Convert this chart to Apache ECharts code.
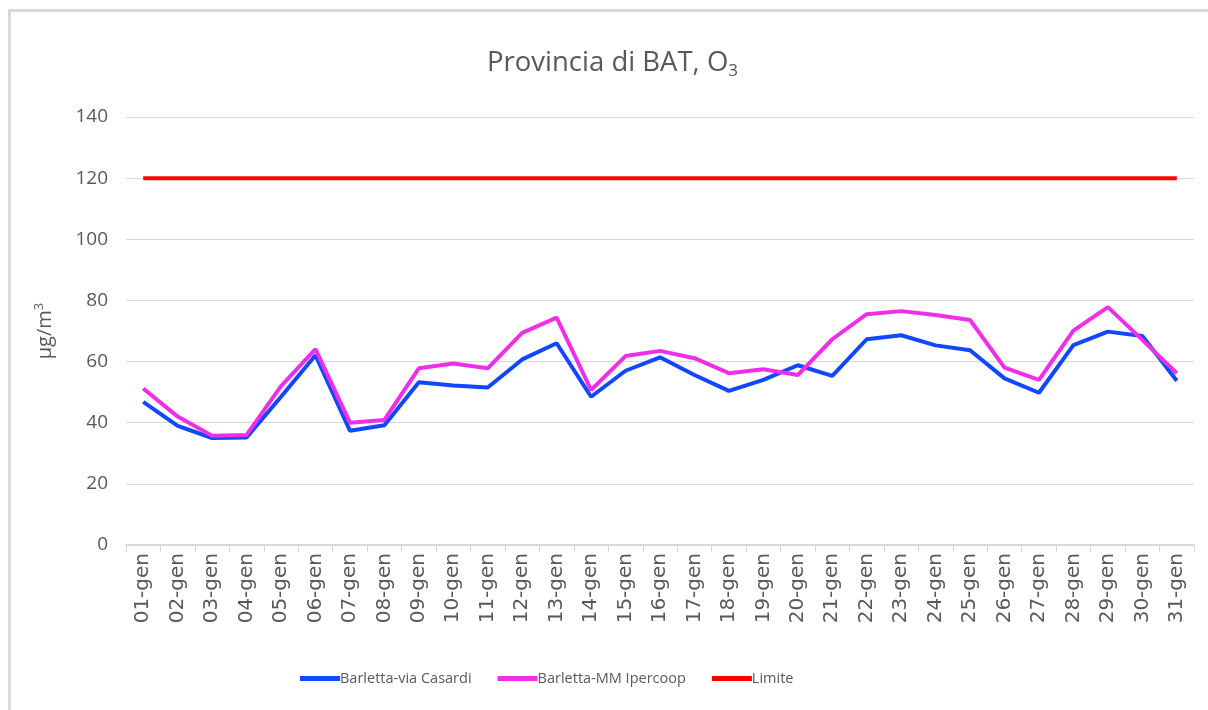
<!DOCTYPE html>
<html>
<head>
<meta charset="utf-8">
<script src="https://cdn.jsdelivr.net/npm/echarts@6/dist/echarts.min.js"></script>
<style>
html,body{margin:0;padding:0;background:#fff;}
#frame{position:absolute;left:8px;top:9px;width:1200px;height:701px;border-left:3px solid #d9d9d9;border-top:3px solid #d9d9d9;box-sizing:border-box;}
#chart{position:absolute;left:0;top:0;width:1208px;height:710px;}
</style>
</head>
<body>
<div id="frame"></div>
<div id="chart"></div>
<script>
const categories = ['01-gen','02-gen','03-gen','04-gen','05-gen','06-gen','07-gen','08-gen','09-gen','10-gen','11-gen','12-gen','13-gen','14-gen','15-gen','16-gen','17-gen','18-gen','19-gen','20-gen','21-gen','22-gen','23-gen','24-gen','25-gen','26-gen','27-gen','28-gen','29-gen','30-gen','31-gen'];
const casardi = [46.8,39,35,35.2,48.5,62.1,37.4,39.2,53.2,52.2,51.5,60.7,66,48.5,57,61.4,55.6,50.4,54,58.8,55.3,67.3,68.6,65.3,63.7,54.5,49.8,65.4,69.8,68.4,53.7];
const ipercoop = [51.2,42,35.7,36,52,64.1,40,40.9,57.8,59.4,57.8,69.4,74.4,50.7,61.8,63.5,61.1,56.2,57.5,55.6,67.3,75.5,76.5,75.2,73.6,58,54,70.1,77.8,67.1,56.2];
const limite = categories.map(() => 120);
const yTicks = [0,20,40,60,80,100,120,140];

const font = 'Open Sans';
const chart = echarts.init(document.getElementById('chart'));
chart.setOption({
  animation: false,
  textStyle: {fontFamily: font},
  title: {
    text: '{a|Provincia di BAT, O}{s|3}',
    left: 482, top: 42,
    textStyle: {
      fontWeight: 'normal',
      rich: {
        a: {fontFamily: font, fontSize: 27.5, fontWeight: 'normal', color: '#595959'},
        s: {fontFamily: font, fontSize: 17, fontWeight: 'normal', color: '#595959', padding: [16,0,0,0]}
      }
    }
  },
  grid: {left: 126, right: 14, top: 117, bottom: 165},
  xAxis: {
    type: 'category', data: categories, boundaryGap: true,
    axisLine: {lineStyle: {color: '#d9d9d9', width: 2}},
    axisTick: {show: true, length: 7, lineStyle: {color: '#d9d9d9'}},
    axisLabel: {rotate: 90, fontSize: 20, color: '#595959', margin: 8, interval: 0, fontFamily: 'DejaVu Sans'}
  },
  yAxis: {
    type: 'value', min: 0, max: 140, interval: 20,
    name: '{a|μg/m}{s|3}', nameLocation: 'middle', nameRotate: 90, nameGap: 68,
    nameTextStyle: {rich: {
      a: {fontFamily: font, fontSize: 20, color: '#595959'},
      s: {fontFamily: font, fontSize: 13, color: '#595959', padding: [0,0,12,0]}
    }},
    axisLine: {show: false}, axisTick: {show: false},
    axisLabel: {fontSize: 19, color: '#595959', margin: 18, fontFamily: font,
      formatter: v => yTicks.includes(v) ? String(v) : ''},
    splitLine: {lineStyle: {color: '#d9d9d9', width: 1}}
  },
  legend: {
    top: 666, left: 295, itemGap: 26, itemWidth: 40, itemHeight: 5, icon: 'rect',
    textStyle: {fontSize: 14.5, color: '#595959', fontFamily: font, padding: [0,0,0,-5]},
    data: ['Barletta-via Casardi','Barletta-MM Ipercoop','Limite']
  },
  series: [
    {name: 'Barletta-via Casardi', type: 'line', data: casardi, symbol: 'none', lineStyle: {color: '#1048ff', width: 4}, itemStyle: {color: '#1048ff'}, z: 3},
    {name: 'Barletta-MM Ipercoop', type: 'line', data: ipercoop, symbol: 'none', lineStyle: {color: '#f02ee8', width: 4}, itemStyle: {color: '#f02ee8'}, z: 4},
    {name: 'Limite', type: 'line', data: limite, symbol: 'none', lineStyle: {color: '#ff0000', width: 4}, itemStyle: {color: '#ff0000'}, z: 2}
  ]
});
</script>
</body>
</html>
